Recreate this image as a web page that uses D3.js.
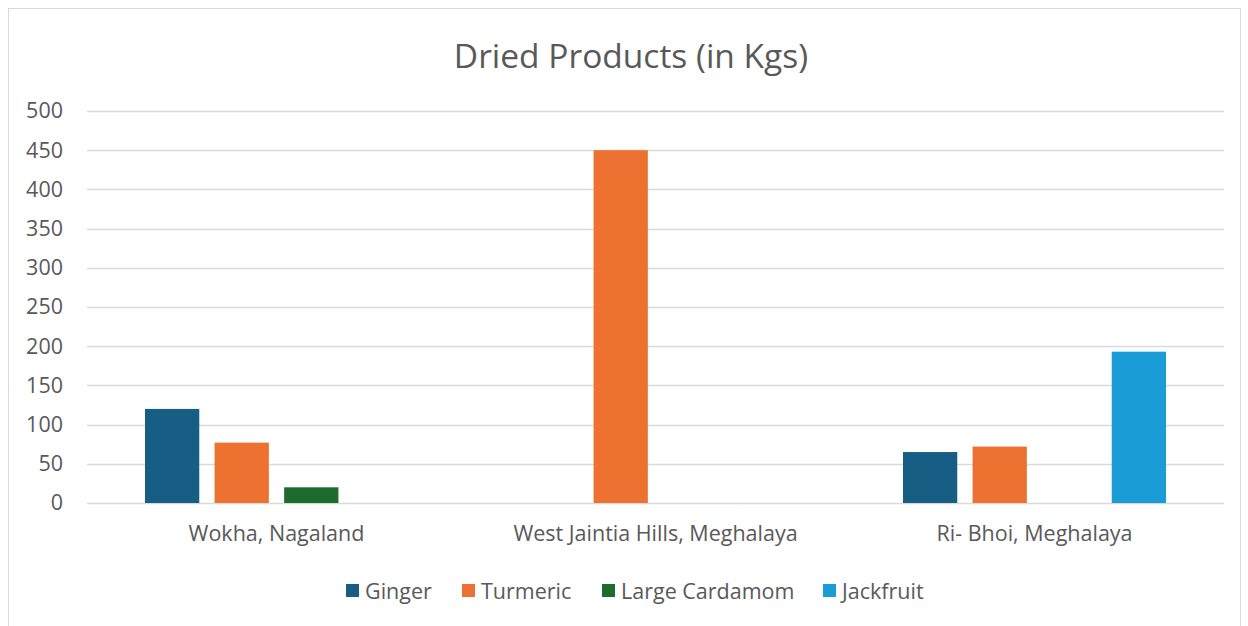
<!DOCTYPE html>
<html>
<head>
<meta charset="utf-8">
<script src="https://cdn.jsdelivr.net/npm/d3@7"></script>
<style>
  body { margin: 0; background: #fff; }
  text { font-family: "Open Sans", sans-serif; fill: #595959; }
</style>
</head>
<body>
<div id="chart"></div>
<script>
var categories = ["Wokha, Nagaland", "West Jaintia Hills, Meghalaya", "Ri- Bhoi, Meghalaya"];
var seriesNames = ["Ginger", "Turmeric", "Large Cardamom", "Jackfruit"];
var ginger = [120, 0, 65];
var turmeric = [77, 450, 72];
var largeCardamom = [20, 0, 0];
var jackfruit = [0, 0, 193];
var yTicks = [0, 50, 100, 150, 200, 250, 300, 350, 400, 450, 500];
var colors = ["#175e84", "#ed7130", "#1e6b2e", "#1a9cd6"];

var seriesValues = [ginger, turmeric, largeCardamom, jackfruit];

var W = 1248, H = 626,
    margin = { left: 87, right: 24, top: 111, bottom: 123 };
var width = W - margin.left - margin.right,
    height = H - margin.top - margin.bottom;

var svg = d3.select("#chart").append("svg")
    .attr("width", W)
    .attr("height", H);

// outer chart border
svg.append("rect")
    .attr("x", 8.5).attr("y", 8.5)
    .attr("width", 1232).attr("height", 660)
    .attr("fill", "none").attr("stroke", "#d9d9d9");

svg.append("text")
    .attr("x", 631).attr("y", 68)
    .attr("text-anchor", "middle")
    .style("font-size", "33.5px")
    .text("Dried Products (in Kgs)");

var g = svg.append("g").attr("transform", "translate(" + margin.left + "," + margin.top + ")");

var y = d3.scaleLinear().domain([0, 500]).range([height, 0]);
var x0 = d3.scaleBand().domain(categories).range([0, width]).paddingInner(0).paddingOuter(0);
var x1 = d3.scaleBand().domain(seriesNames).range([58, x0.bandwidth() - 58]).paddingInner(0.22);

// gridlines
g.selectAll("line.grid").data(yTicks).enter().append("line")
    .attr("class", "grid")
    .attr("x1", 0).attr("x2", width)
    .attr("y1", d => Math.round(y(d)) + 0.5).attr("y2", d => Math.round(y(d)) + 0.5)
    .attr("stroke", "#d9d9d9").attr("stroke-width", 1.3);

var yAxis = g.append("g")
    .call(d3.axisLeft(y).tickValues(yTicks).tickSize(0).tickPadding(24));
yAxis.select(".domain").remove();
yAxis.selectAll("text").style("font-size", "21.5px").attr("fill", "#595959");

var xAxis = g.append("g").attr("transform", "translate(0," + height + ")")
    .call(d3.axisBottom(x0).tickSize(0).tickPadding(23));
xAxis.select(".domain").remove();
xAxis.selectAll("text").style("font-size", "21.5px").attr("fill", "#595959");

var groups = g.selectAll("g.cat").data(categories).enter().append("g")
    .attr("class", "cat")
    .attr("transform", d => "translate(" + x0(d) + ",0)");

groups.selectAll("rect").data((c, ci) => seriesNames.map((s, si) => ({ s: s, si: si, v: seriesValues[si][ci] })))
    .enter().append("rect")
    .filter(d => d.v > 0)
    .attr("x", d => x1(d.s))
    .attr("y", d => y(d.v))
    .attr("width", x1.bandwidth())
    .attr("height", d => height - y(d.v))
    .attr("fill", d => colors[d.si]);

// legend
var legendX = [346, 462, 602, 823];
var legend = svg.append("g").attr("transform", "translate(0,591)");
var li = legend.selectAll("g").data(seriesNames).enter().append("g")
    .attr("transform", (d, i) => "translate(" + legendX[i] + ",0)");
li.append("rect").attr("x", 0).attr("y", -7).attr("width", 13).attr("height", 13)
    .attr("fill", (d, i) => colors[i]);
li.append("text").attr("x", 19).attr("y", 0).attr("dy", "0.35em")
    .style("font-size", "21.5px").text(d => d);
</script>
</body>
</html>
